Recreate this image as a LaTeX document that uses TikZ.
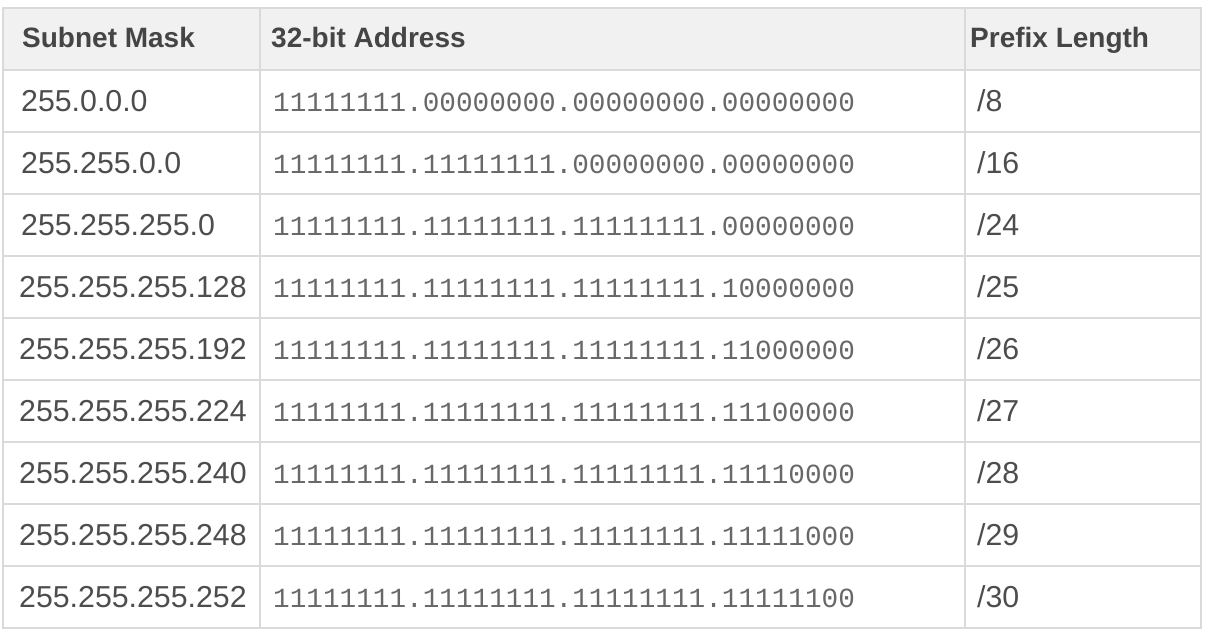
\documentclass[tikz,border=0pt]{standalone}
\usepackage{fontspec}
\setmainfont{Liberation Sans}
\setmonofont{Liberation Mono}
\definecolor{mytext}{HTML}{4D4D4D}
\definecolor{myhead}{HTML}{F1F1F1}
\definecolor{myrule}{HTML}{DADADA}
\tikzset{
    cell/.style={
           anchor=base west,
           inner sep=0pt,
           text=mytext,
           font=\fontsize{30.3}{31}\selectfont,
           },
    head/.style={cell, font=\fontsize{28}{30}\selectfont\bfseries, text=mytext!90!black},
    bits/.style={cell, font=\fontsize{27.7}{30}\selectfont\ttfamily, text=mytext!85},
}
\newcommand{\mask}[1]{255.#1}

\begin{document}
\begin{tikzpicture}[x=1pt, y=-1pt]
  \useasboundingbox (0,0) rectangle (1210,634);
  \fill[myhead] (3,8) rectangle (1201,70);
  \draw[myrule, line width=2pt] (3,70) -- (1201,70) (3,132) -- (1201,132) (3,194) -- (1201,194)
       (3,256) -- (1201,256) (3,318) -- (1201,318) (3,380) -- (1201,380) (3,442) -- (1201,442)
       (3,504) -- (1201,504) (3,566) -- (1201,566) (260,8) -- (260,628) (965,8) -- (965,628);
  \draw[myrule, line width=2pt] (3,8) rectangle (1201,628);
  \node[head] (H1) at ( 22, 48) {Subnet Mask};
  \node[head] (H2) at (271, 48) {32-bit Address};
  \node[head] (H3) at (970, 48) {Prefix Length};
  \node[cell] (M1) at ( 21,111) {\mask{0.0.0}};       \node[bits] (B1) at (273,111) {11111111.00000000.00000000.00000000}; \node[cell] (P1) at (977,111) {/8};
  \node[cell] (M2) at ( 21,173) {\mask{255.0.0}};     \node[bits] (B2) at (273,173) {11111111.11111111.00000000.00000000}; \node[cell] (P2) at (977,173) {/16};
  \node[cell] (M3) at ( 21,235) {\mask{255.255.0}};   \node[bits] (B3) at (273,235) {11111111.11111111.11111111.00000000}; \node[cell] (P3) at (977,235) {/24};
  \node[cell] (M4) at ( 19,297) {\mask{255.255.128}}; \node[bits] (B4) at (273,297) {11111111.11111111.11111111.10000000}; \node[cell] (P4) at (977,297) {/25};
  \node[cell] (M5) at ( 19,359) {\mask{255.255.192}}; \node[bits] (B5) at (273,359) {11111111.11111111.11111111.11000000}; \node[cell] (P5) at (977,359) {/26};
  \node[cell] (M6) at ( 19,421) {\mask{255.255.224}}; \node[bits] (B6) at (273,421) {11111111.11111111.11111111.11100000}; \node[cell] (P6) at (977,421) {/27};
  \node[cell] (M7) at ( 19,483) {\mask{255.255.240}}; \node[bits] (B7) at (273,483) {11111111.11111111.11111111.11110000}; \node[cell] (P7) at (977,483) {/28};
  \node[cell] (M8) at ( 19,545) {\mask{255.255.248}}; \node[bits] (B8) at (273,545) {11111111.11111111.11111111.11111000}; \node[cell] (P8) at (977,545) {/29};
  \node[cell] (M9) at ( 19,607) {\mask{255.255.252}}; \node[bits] (B9) at (273,607) {11111111.11111111.11111111.11111100}; \node[cell] (P9) at (977,607) {/30};
\end{tikzpicture}
\end{document}
